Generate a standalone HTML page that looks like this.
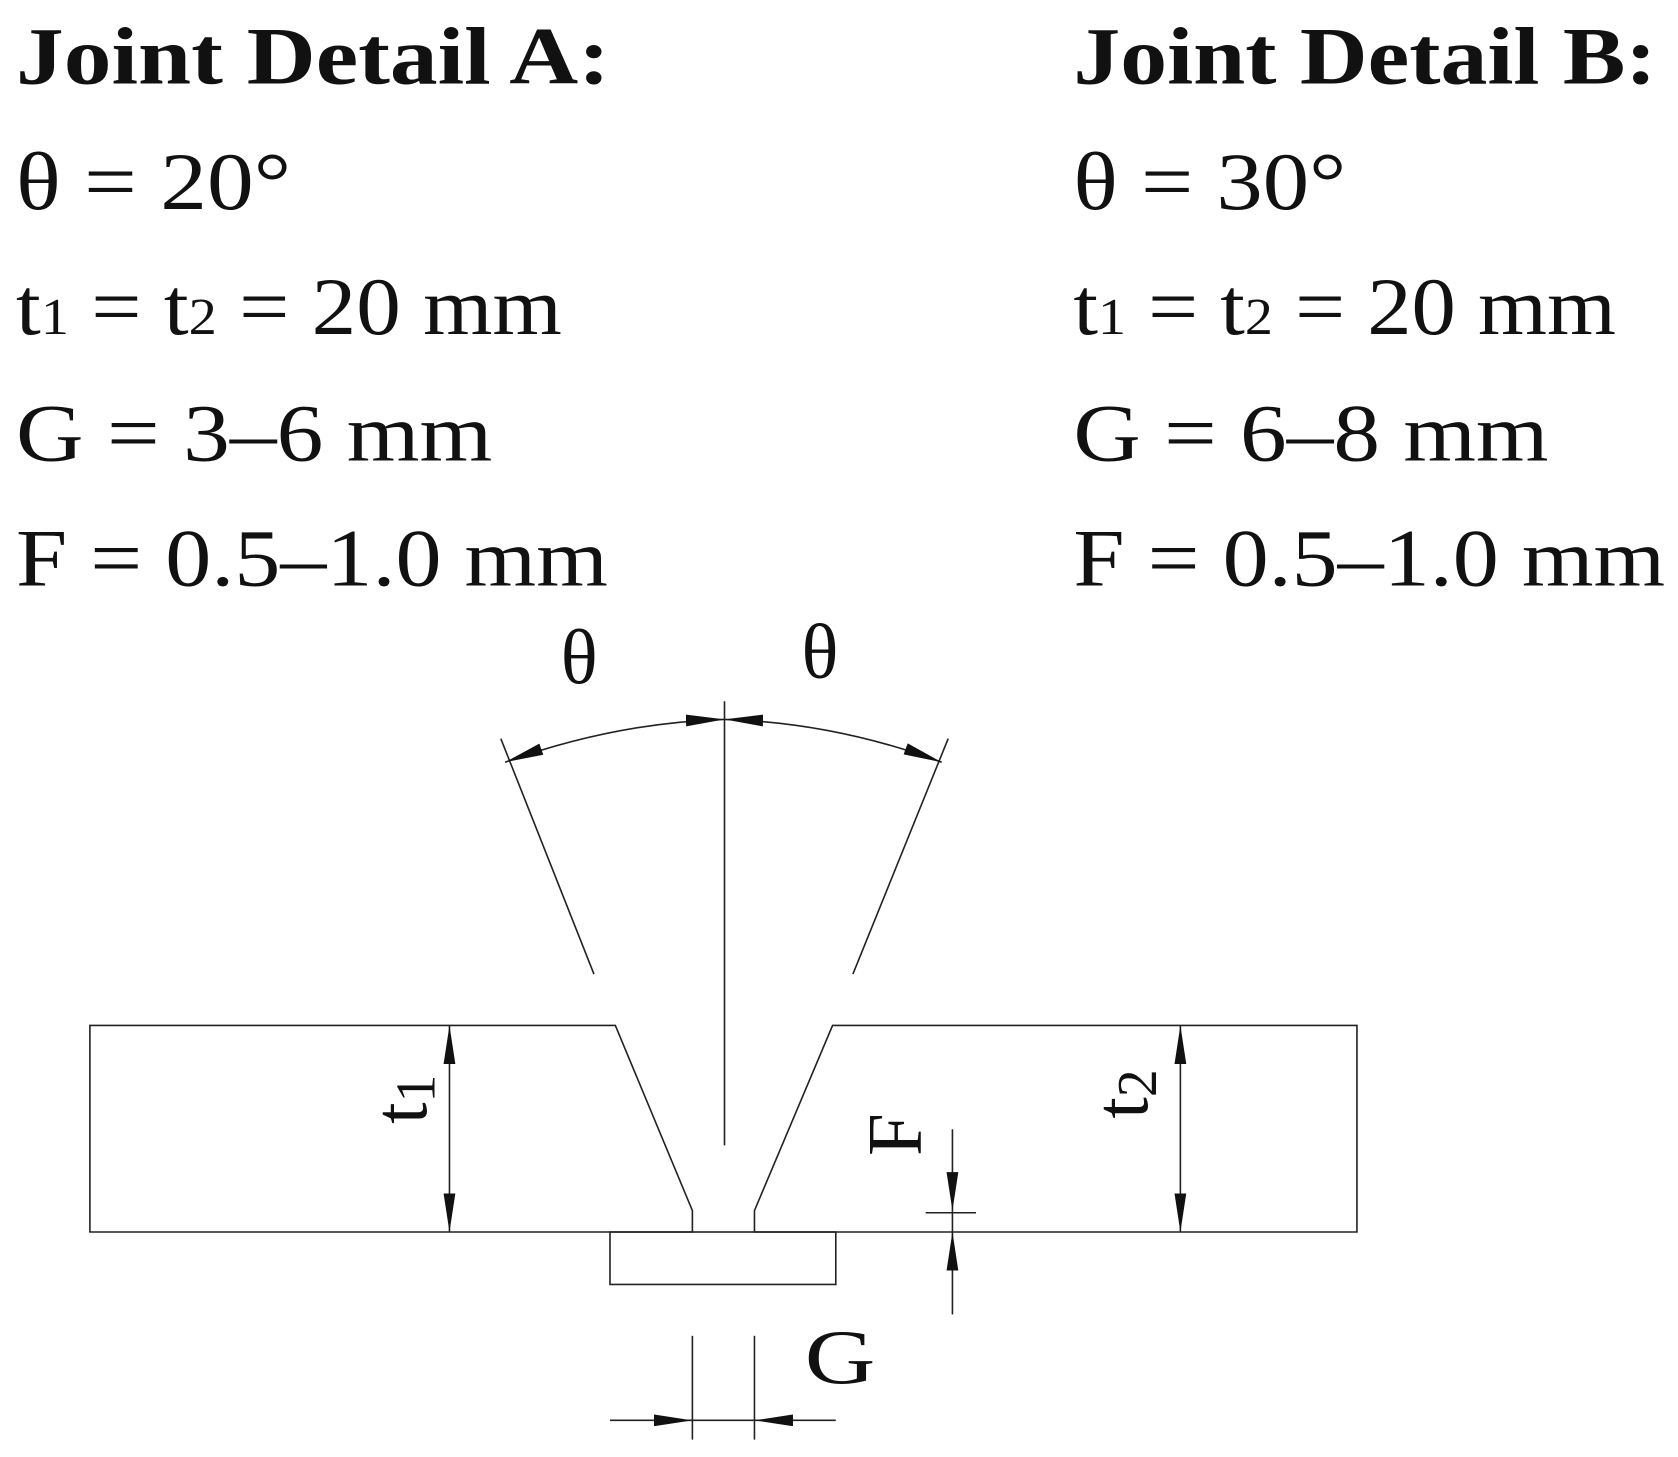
<!DOCTYPE html>
<html><head><style>
html,body{margin:0;padding:0;background:#fff;}
svg{display:block;}
text{font-family:"Liberation Serif",serif;fill:#111;}
</style></head><body>
<svg width="1678" height="1457" viewBox="0 0 1568 1361" xmlns="http://www.w3.org/2000/svg">
<defs>
<marker id="a" viewBox="0 0 10 10" refX="10" refY="5" markerWidth="36" markerHeight="11" markerUnits="userSpaceOnUse" orient="auto-start-reverse" preserveAspectRatio="none">
<path d="M0,0 L10,5 L0,10 z" fill="#111"/></marker>
</defs>
<g font-size="76">
<text x="15" y="78" font-weight="bold" textLength="555" lengthAdjust="spacingAndGlyphs">Joint Detail A:</text>
<text x="15" y="195" textLength="257" lengthAdjust="spacingAndGlyphs">θ = 20°</text>
<text x="15" y="312" textLength="510" lengthAdjust="spacingAndGlyphs">t<tspan font-size="48">1</tspan> = t<tspan font-size="48">2</tspan> = 20 mm</text>
<text x="15" y="430" textLength="445" lengthAdjust="spacingAndGlyphs">G = 3–6 mm</text>
<text x="15" y="547" textLength="553" lengthAdjust="spacingAndGlyphs">F = 0.5–1.0 mm</text>
<text x="1003" y="78" font-weight="bold" textLength="545" lengthAdjust="spacingAndGlyphs">Joint Detail B:</text>
<text x="1003" y="195" textLength="255" lengthAdjust="spacingAndGlyphs">θ = 30°</text>
<text x="1003" y="312" textLength="507" lengthAdjust="spacingAndGlyphs">t<tspan font-size="48">1</tspan> = t<tspan font-size="48">2</tspan> = 20 mm</text>
<text x="1003" y="430" textLength="444" lengthAdjust="spacingAndGlyphs">G = 6–8 mm</text>
<text x="1003" y="547" textLength="553" lengthAdjust="spacingAndGlyphs">F = 0.5–1.0 mm</text>
</g>
<g stroke="#222" stroke-width="1.5" fill="none">
<path d="M575,958 L84,958 L84,1151 L647,1151 L647,1131 Z"/>
<path d="M778,958 L1268,958 L1268,1151 L705,1151 L705,1131 Z"/>
<rect x="570" y="1151" width="211" height="49"/>
<line x1="677" y1="655" x2="677" y2="1070"/>
<line x1="468" y1="690" x2="555" y2="910"/>
<line x1="886" y1="690" x2="797" y2="910"/>
<path d="M472,712 Q575,675 677,672" marker-start="url(#a)" marker-end="url(#a)"/>
<path d="M677,672 Q780,675 880,712" marker-start="url(#a)" marker-end="url(#a)"/>
<line x1="420" y1="958" x2="420" y2="1151" marker-start="url(#a)" marker-end="url(#a)"/>
<line x1="1103" y1="958" x2="1103" y2="1151" marker-start="url(#a)" marker-end="url(#a)"/>
<line x1="890" y1="1055" x2="890" y2="1131" marker-end="url(#a)"/>
<line x1="890" y1="1228" x2="890" y2="1151" marker-end="url(#a)"/>
<line x1="890" y1="1131" x2="890" y2="1151"/>
<line x1="865" y1="1133" x2="912" y2="1133"/>
<line x1="647" y1="1248" x2="647" y2="1345"/>
<line x1="705" y1="1248" x2="705" y2="1345"/>
<line x1="570" y1="1327" x2="647" y2="1327" marker-end="url(#a)"/>
<line x1="781" y1="1327" x2="705" y2="1327" marker-end="url(#a)"/>
<line x1="647" y1="1327" x2="705" y2="1327"/>
</g>
<g font-size="72">
<text x="524" y="638">θ</text>
<text x="749" y="633">θ</text>
<text x="752" y="1292" textLength="66" lengthAdjust="spacingAndGlyphs">G</text>
<text transform="translate(398,1050) rotate(-90)">t<tspan font-size="52" dy="8">1</tspan></text>
<text transform="translate(1072,1045) rotate(-90)">t<tspan font-size="52" dy="8">2</tspan></text>
<text transform="translate(860,1080) rotate(-90)">F</text>
</g>
</svg>
</body></html>
